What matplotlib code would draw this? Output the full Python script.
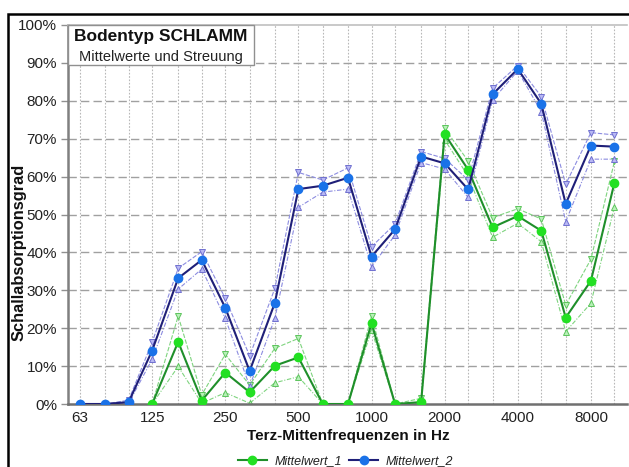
import numpy as np
import matplotlib
matplotlib.use("Agg")
import matplotlib.pyplot as plt
from matplotlib.patches import Rectangle
from matplotlib.lines import Line2D

plt.rcParams['font.family'] = ['Liberation Sans', 'DejaVu Sans']

nan = np.nan
freqs = [63, 80, 100, 125, 160, 200, 250, 315, 400, 500, 630, 800, 1000, 1250,
         1600, 2000, 2500, 3150, 4000, 5000, 6300, 8000, 10000]

mean2 = [0, 0, 0.5, 14.1, 33.2, 38.0, 25.4, 8.7, 26.7, 56.7, 57.6, 59.7, 38.9, 46.1,
         65.3, 63.5, 56.6, 81.7, 88.4, 79.2, 52.8, 68.2, 67.9]
upper2 = [0, 0, 1.0, 16.3, 35.8, 40.2, 27.9, 12.7, 30.5, 61.1, 59.1, 62.3, 41.5, 47.5,
          66.6, 64.8, 59.1, 83.3, 89.3, 81.1, 58.0, 71.6, 71.0]
lower2 = [0, 0, 0.2, 11.8, 30.3, 35.6, 22.6, 4.7, 22.6, 51.9, 55.9, 56.7, 36.2, 44.6,
          63.7, 62.0, 54.5, 80.2, 87.9, 77.1, 48.1, 64.6, 64.6]

mean1 = [nan, nan, nan, 0, 16.4, 0.9, 8.3, 3.1, 10.1, 12.3, 0, 0, 21.3, 0,
         0.5, 71.2, 61.8, 46.6, 49.6, 45.7, 22.8, 32.5, 58.4]
upper1 = [nan, nan, nan, 0, 23.2, 2.4, 13.1, 5.0, 14.7, 17.3, 0, 0, 23.2, 0,
          1.5, 72.7, 64.1, 49.2, 51.5, 48.8, 26.1, 38.2, 64.0]
lower1 = [nan, nan, nan, 0, 9.9, 0.2, 3.0, 0.2, 5.6, 7.2, 0, 0, 19.5, 0,
          0, 69.7, 60.1, 44.0, 47.7, 42.8, 19.1, 26.6, 52.1]

xticks = [63, 125, 250, 500, 1000, 2000, 4000, 8000]
xticklabels = ["63", "125", "250", "500", "1000", "2000", "4000", "8000"]
yticks = list(range(0, 101, 10))
yticklabels = [f"{v}%" for v in yticks]

W, H = 629, 467
fig = plt.figure(figsize=(W / 100, H / 100), dpi=100)
L, R, T, B = 68, 627, 25, 404
ax = fig.add_axes([L / W, 1 - B / H, (R - L) / W, (B - T) / H])

ax.set_xscale('log')
ax.set_xlim(56.3, 11263)
ax.set_ylim(0, 100)

# grid
for f in freqs:
    ax.axvline(f, color='#b8b8b8', lw=0.8, ls=(0, (1.5, 1.5)), zorder=0)
for v in yticks[1:-1]:
    ax.axhline(v, color='#a0a0a0', lw=1.0, ls=(0, (6, 3)), zorder=0)

def series(mean, up, lo, line_c, mk_c, sc_line, sc_face, sc_edge, label):
    ax.plot(freqs, up, color=sc_line, lw=0.8, ls=(0, (4, 1.5)), marker='v', ms=5,
            mfc=sc_face, mec=sc_edge, mew=0.7, zorder=2)
    ax.plot(freqs, lo, color=sc_line, lw=0.8, ls=(0, (4, 1.5, 1, 1.5)), marker='^', ms=5,
            mfc=sc_face, mec=sc_edge, mew=0.7, zorder=2)
    ax.plot(freqs, mean, color=line_c, lw=1.5, marker='o', ms=6, mfc=mk_c, mec=mk_c,
            zorder=3, label=label)

series(mean1, upper1, lower1, '#1f8f2a', '#22e022', '#7fd47f', '#b8f0b8', '#5cc45c', 'Mittelwert_1')
series(mean2, upper2, lower2, '#1f1f78', '#1a72e8', '#8c8ce0', '#b8b8f4', '#7070d0', 'Mittelwert_2')

ax.set_xticks(xticks)
ax.set_xticklabels(xticklabels)
ax.xaxis.set_minor_locator(matplotlib.ticker.NullLocator())
ax.set_yticks(yticks)
ax.set_yticklabels(yticklabels)
ax.tick_params(axis='x', length=0, pad=5, labelsize=11, colors='#222222')
ax.tick_params(axis='y', length=5, width=1, color='#909090', pad=3, labelsize=11, labelcolor='#222222')

ax.spines['right'].set_visible(False)
ax.spines['left'].set_color('#808080')
ax.spines['left'].set_linewidth(1.8)
ax.spines['bottom'].set_color('#707070')
ax.spines['bottom'].set_linewidth(1.8)
ax.spines['top'].set_color('#c0c0c0')
ax.spines['top'].set_linewidth(1.2)

# title box
bw = (254 - L) / (R - L)
bh = (65 - T) / (B - T)
ax.add_patch(Rectangle((0, 1 - bh), bw, bh, transform=ax.transAxes, facecolor='white',
                       edgecolor='#909090', lw=1.0, zorder=5, clip_on=False))
cx = (161 - L) / (R - L)
ax.text(cx, 1 - (37 - T) / (B - T), "Bodentyp SCHLAMM", transform=ax.transAxes,
        ha='center', va='center', fontsize=12.5, fontweight='bold', color='#111111', zorder=6)
ax.text(cx, 1 - (57 - T) / (B - T), "Mittelwerte und Streuung", transform=ax.transAxes,
        ha='center', va='center', fontsize=10.5, color='#222222', zorder=6)

# axis labels
fig.text(348.5 / W, 1 - 436 / H, "Terz-Mittenfrequenzen in Hz", ha='center', va='center',
         fontsize=11, fontweight='bold', color='#111111')
fig.text(19 / W, 1 - 252 / H, "Schallabsorptionsgrad", ha='center', va='center',
         rotation=90, fontsize=11.8, fontweight='bold', color='#111111')

# legend
handles = [Line2D([], [], color='#1f8f2a', lw=1.5, marker='o', ms=6, mfc='#22e022', mec='#22e022'),
           Line2D([], [], color='#1f1f78', lw=1.5, marker='o', ms=6, mfc='#1a72e8', mec='#1a72e8')]
leg = fig.legend(handles, ['Mittelwert_1', 'Mittelwert_2'], loc='center',
                 bbox_to_anchor=(345.5 / W, 1 - 461.5 / H), ncol=2, frameon=False,
                 prop={'size': 9, 'style': 'italic'}, handlelength=2.3, handletextpad=0.6,
                 columnspacing=0.6, borderpad=0)
for t in leg.get_texts():
    t.set_color('#222222')

# outer frame
fig.patches.append(Rectangle((8 / W, -0.05), 1.2, 1 - 14 / H + 0.05, transform=fig.transFigure,
                             fill=False, edgecolor='black', lw=1.8))

fig.savefig('out.png', dpi=100)
